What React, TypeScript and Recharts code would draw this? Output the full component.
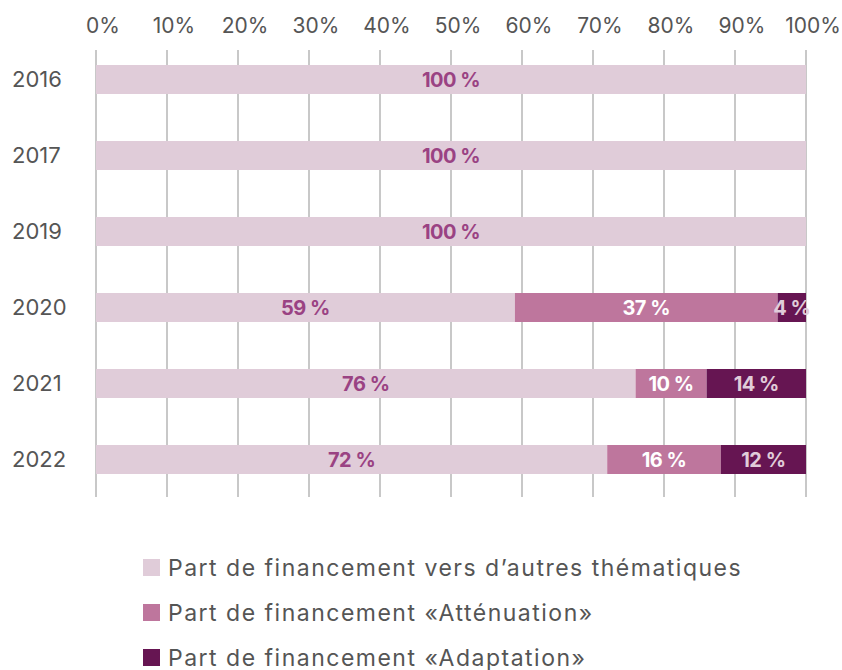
import { BarChart, Bar, XAxis, YAxis, CartesianGrid, LabelList } from "recharts";

const years = ["2016", "2017", "2019", "2020", "2021", "2022"];
const autres = [100, 100, 100, 59, 76, 72];
const attenuation = [0, 0, 0, 37, 10, 16];
const adaptation = [0, 0, 0, 4, 14, 12];
const xTicks = [0, 10, 20, 30, 40, 50, 60, 70, 80, 90, 100];

const seriesNames = [
  "Part de financement vers d\u2019autres thématiques",
  "Part de financement «Atténuation»",
  "Part de financement «Adaptation»",
];
const colors = ["#e0ccd9", "#be769d", "#661552"];
const labelColors = ["#9a4283", "#ffffff", "#e0ccd9"];

const FONT = "Inter, 'Noto Sans', sans-serif";

const data = years.map((year, i) => ({
  year,
  autres: autres[i],
  attenuation: attenuation[i],
  adaptation: adaptation[i],
}));

// centred bold value label inside each segment
const makeLabel = (fill: string) => (props: any) => {
  const { x, y, width, height, value } = props;
  if (!value) return null;
  return (
    <text
      x={x + width / 2}
      y={y + height / 2}
      dy={7}
      textAnchor="middle"
      fill={fill}
      fontSize={20}
      fontWeight={700}
      fontFamily={FONT}
      letterSpacing={-0.5}
    >
      {value} %
    </text>
  );
};

const YearTick = (props: any) => {
  const { y, payload } = props;
  return (
    <text x={12} y={y} dy={8} textAnchor="start" fill="#555" fontSize={22} fontFamily={FONT}>
      {payload.value}
    </text>
  );
};

const gridLine = (props: any) => (
  <line
    key={props.key}
    x1={props.x1}
    x2={props.x2}
    y1={props.y1 + 9}
    y2={props.y2}
    stroke="#c8c8c8"
    strokeWidth={2}
  />
);

const LegendBox = () => (
  <div
    style={{
      position: "absolute",
      left: 143,
      top: 545,
      fontFamily: FONT,
      fontSize: 23,
      letterSpacing: 1.5,
      color: "#555",
      whiteSpace: "nowrap",
    }}
  >
    {seriesNames.map((name, i) => (
      <div key={name} style={{ display: "flex", alignItems: "center", height: 45 }}>
        <span
          style={{ width: 17, height: 17, background: colors[i], display: "inline-block", marginRight: 8 }}
        />
        <span>{name}</span>
      </div>
    ))}
  </div>
);

export default function App() {
  return (
    <div style={{ position: "absolute", left: 0, top: 0, width: 842, height: 670, background: "#fff" }}>
      <BarChart
        width={842}
        height={670}
        data={data}
        layout="vertical"
        margin={{ top: 11, right: 36, left: 0, bottom: 173 }}
      >
        <CartesianGrid horizontal={false} vertical={gridLine} />
        <XAxis
          type="number"
          orientation="top"
          domain={[0, 100]}
          ticks={xTicks}
          tickFormatter={(v: number) => `${v}%`}
          axisLine={false}
          tickLine={false}
          height={30}
          tick={{ fill: "#555", fontSize: 21, fontFamily: FONT, dx: 7 }}
          interval={0}
        />
        <YAxis
          type="category"
          dataKey="year"
          width={96}
          axisLine={false}
          tickLine={false}
          tick={<YearTick />}
        />
        <Bar dataKey="autres" stackId="a" fill={colors[0]} barSize={29} isAnimationActive={false}>
          <LabelList dataKey="autres" content={makeLabel(labelColors[0])} />
        </Bar>
        <Bar dataKey="attenuation" stackId="a" fill={colors[1]} barSize={29} isAnimationActive={false}>
          <LabelList dataKey="attenuation" content={makeLabel(labelColors[1])} />
        </Bar>
        <Bar dataKey="adaptation" stackId="a" fill={colors[2]} barSize={29} isAnimationActive={false}>
          <LabelList dataKey="adaptation" content={makeLabel(labelColors[2])} />
        </Bar>
      </BarChart>
      <LegendBox />
    </div>
  );
}
